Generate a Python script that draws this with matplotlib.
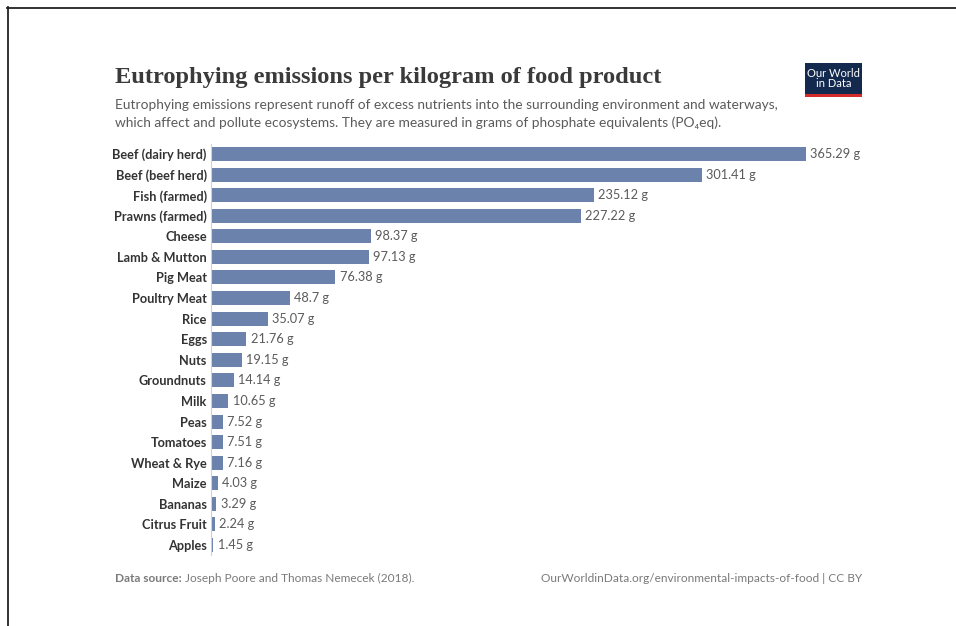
import matplotlib
matplotlib.use("Agg")
import matplotlib.pyplot as plt
import matplotlib.patches as mpatches

# ── Data ────────────────────────────────────────────────────────────────────
foods = [
    "Beef (dairy herd)", "Beef (beef herd)", "Fish (farmed)", "Prawns (farmed)",
    "Cheese", "Lamb & Mutton", "Pig Meat", "Poultry Meat", "Rice", "Eggs",
    "Nuts", "Groundnuts", "Milk", "Peas", "Tomatoes", "Wheat & Rye", "Maize",
    "Bananas", "Citrus Fruit", "Apples",
]
emissions = [
    365.29, 301.41, 235.12, 227.22, 98.37, 97.13, 76.38, 48.7, 35.07, 21.76,
    19.15, 14.14, 10.65, 7.52, 7.51, 7.16, 4.03, 3.29, 2.24, 1.45,
]

BAR_COLOR = "#6b82ad"
TEXT_DARK = "#333333"
TEXT_GREY = "#5b5b5b"

W, H = 956, 626
fig = plt.figure(figsize=(W / 100, H / 100), dpi=100, facecolor="white")


def fx(px):
    return px / W


def fy(py):
    return 1 - py / H


# page frame (top and left edges only)
fig.add_artist(plt.Line2D([fx(7), fx(956)], [fy(7.5), fy(7.5)], color="#222222", lw=1.3))
fig.add_artist(plt.Line2D([fx(7.5), fx(7.5)], [fy(7), fy(626)], color="#222222", lw=1.3))

# ── Bars ────────────────────────────────────────────────────────────────────
row_h = (545 - 154) / 19
ax_top = 154 - row_h / 2
ax_bot = 545 + row_h / 2
ax = fig.add_axes([fx(211), fy(ax_bot), fx(862) - fx(211), fy(ax_top) - fy(ax_bot)])

pos = list(range(len(foods)))
ax.barh(pos, emissions, height=0.68, color=BAR_COLOR, zorder=2)
ax.set_xlim(0, 400)
ax.set_ylim(len(foods) - 0.5, -0.5)

for y, v in zip(pos, emissions):
    ax.text(v + 2.6, y, f"{v:g} g", va="center", ha="left",
            fontsize=9.2, color=TEXT_GREY, family="Lato", clip_on=False)

ax.set_yticks(pos)
ax.set_yticklabels(foods, fontsize=9.2, color=TEXT_DARK, family="Lato",
                   fontweight="bold")
ax.tick_params(axis="y", length=0, pad=3)
ax.set_xticks([])
for side in ["top", "right", "bottom"]:
    ax.spines[side].set_visible(False)
ax.spines["left"].set_color("#d0d0d0")
ax.spines["left"].set_linewidth(0.8)
ax.patch.set_alpha(0)

# ── Titles ──────────────────────────────────────────────────────────────────
fig.text(fx(115), fy(78), "Eutrophying emissions per kilogram of food product",
         ha="left", va="center", fontsize=17.6, family="Liberation Serif",
         fontweight="bold", color="#3a3a3a")
fig.text(fx(115), fy(105),
         "Eutrophying emissions represent runoff of excess nutrients into the surrounding environment and waterways,",
         ha="left", va="center", fontsize=9.9, family="Lato", color=TEXT_GREY)
fig.text(fx(115), fy(123),
         "which affect and pollute ecosystems. They are measured in grams of phosphate equivalents (PO\u2084eq).",
         ha="left", va="center", fontsize=9.9, family="Lato", color=TEXT_GREY)

# ── Logo ────────────────────────────────────────────────────────────────────
fig.add_artist(mpatches.Rectangle((fx(805), fy(95)), fx(862) - fx(805), fy(63) - fy(95),
                                  facecolor="#132a4e", edgecolor="none"))
fig.add_artist(mpatches.Rectangle((fx(805), fy(97)), fx(862) - fx(805), fy(94) - fy(97),
                                  facecolor="#d42b2b", edgecolor="none"))
fig.text(fx(833.5), fy(78.5), "Our World\nin Data", ha="center", va="center",
         fontsize=8, color="white", family="Lato", linespacing=0.95)

# ── Footer ──────────────────────────────────────────────────────────────────
src = fig.text(fx(115), fy(578), "Data source:", ha="left", va="center",
               fontsize=8.6, family="Lato", fontweight="bold", color="#7a7a7a")
fig.canvas.draw()
bb = src.get_window_extent()
fig.text(bb.x1 / W + fx(3), fy(578), "Joseph Poore and Thomas Nemecek (2018).",
         ha="left", va="center", fontsize=8.6, family="Lato", color="#7a7a7a")
fig.text(fx(862), fy(578), "OurWorldinData.org/environmental-impacts-of-food | CC BY",
         ha="right", va="center", fontsize=8.6, family="Lato", color="#7a7a7a")

fig.savefig("out.png", dpi=100, facecolor="white")
